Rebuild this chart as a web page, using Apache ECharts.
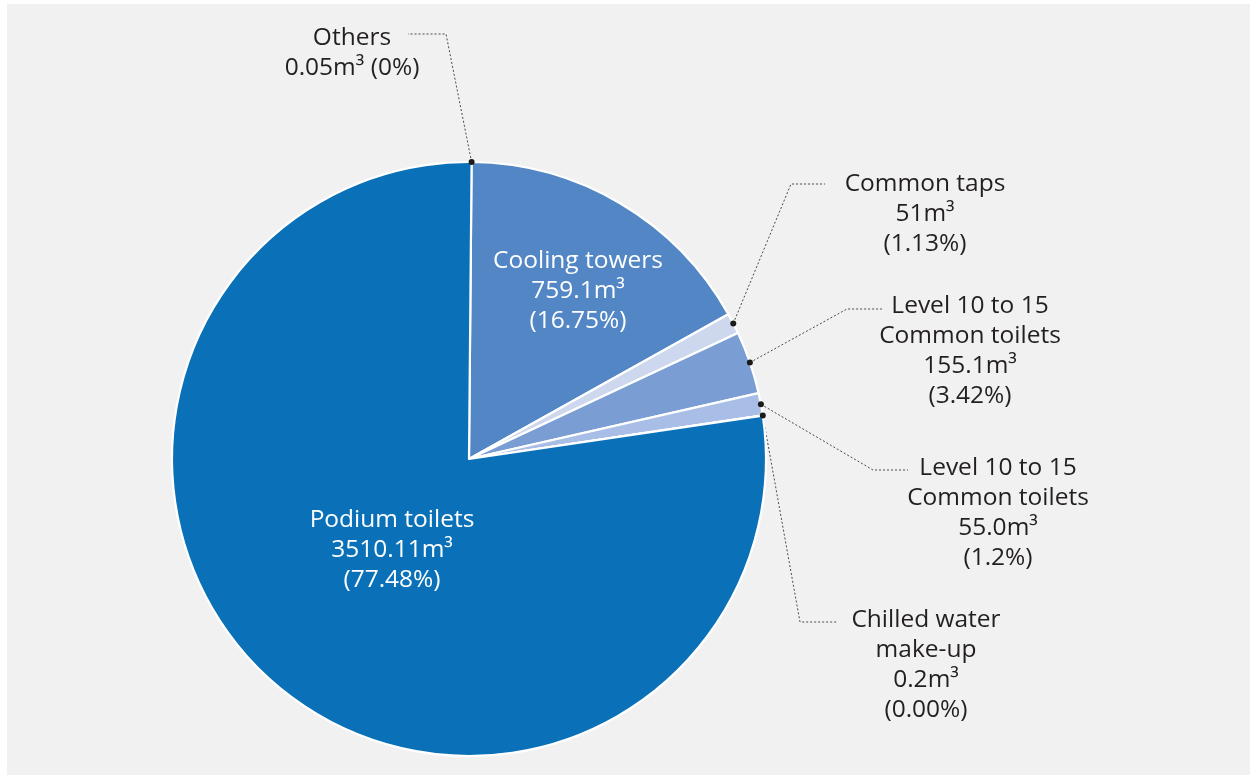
<!DOCTYPE html>
<html>
<head>
<meta charset="utf-8">
<title>Water consumption breakdown</title>
<script src="https://cdn.jsdelivr.net/npm/echarts@6/dist/echarts.min.js"></script>
<style>
  html, body { margin: 0; padding: 0; background: #ffffff; }
  #chart { width: 1250px; height: 775px; }
</style>
</head>
<body>
<div id="chart"></div>
<script>
// Water use by end point, clockwise from the top of the pie
const categories = [
  'Others',
  'Cooling towers',
  'Common taps',
  'Level 10 to 15\nCommon toilets',
  'Level 10 to 15\nCommon toilets',
  'Chilled water\nmake-up',
  'Podium toilets'
];
const volumes = [0.05, 759.1, 51, 155.1, 55.0, 0.2, 3510.11];          // m³
const volumeDecimals = [2, 1, 0, 1, 1, 1, 2];
const shareLabels = ['0%', '16.75%', '1.13%', '3.42%', '1.2%', '0.00%', '77.48%'];

const sliceColors = ['#0a71b8', '#5286c5', '#cdd8ef', '#7a9ed3', '#a9bee6', '#a9bee6', '#0a71b8'];

// Where each label block sits and how its dashed leader bends
const placement = [
  { x: 352, y: 53,  elbow: [446, 34],  end: [408, 34], oneLine: true },
  { x: 578, y: 291, inside: true },
  { x: 925, y: 214, elbow: [791, 184], end: [825, 184] },
  { x: 970, y: 351, elbow: [847, 309], end: [882, 309] },
  { x: 998, y: 513, elbow: [873, 470], end: [908, 470] },
  { x: 926, y: 665, elbow: [800, 622], end: [837, 622] },
  { x: 392, y: 550, inside: true }
];

const FONT = '"Open Sans", "Noto Sans", sans-serif';
const anchors = [];

const seriesData = categories.map(function (name, i) {
  const spot = placement[i];
  return {
    name: name,
    value: volumes[i],
    itemStyle: { color: sliceColors[i] },
    label: spot.inside
      ? { position: 'inside', color: '#ffffff' }
      : { position: 'outside', color: '#231f20' },
    labelLine: { show: !spot.inside }
  };
});

function labelText(p) {
  const i = p.dataIndex;
  const amount = volumes[i].toFixed(volumeDecimals[i]) + 'm³';
  const share = '(' + shareLabels[i] + ')';
  return placement[i].oneLine
    ? categories[i] + '\n' + amount + ' ' + share
    : categories[i] + '\n' + amount + '\n' + share;
}

const chart = echarts.init(document.getElementById('chart'), null, { renderer: 'canvas' });

const option = {
  animation: false,
  backgroundColor: '#ffffff',
  graphic: [
    {
      id: 'panel',
      type: 'rect',
      z: -100,
      silent: true,
      shape: { x: 7, y: 4, width: 1243, height: 771 },
      style: { fill: '#f1f1f1' }
    }
  ],
  series: [
    {
      type: 'pie',
      center: [469, 459],
      radius: 297,
      startAngle: 89.5,
      clockwise: true,
      avoidLabelOverlap: false,
      minShowLabelAngle: 0,
      itemStyle: { borderColor: '#ffffff', borderWidth: 2.2 },
      label: {
        show: true,
        formatter: labelText,
        fontFamily: FONT,
        fontSize: 24.5,
        lineHeight: 30,
        align: 'center'
      },
      labelLine: {
        show: true,
        length: 10,
        length2: 10,
        smooth: false,
        lineStyle: { color: '#4a4a4a', width: 1, type: [2, 2] }
      },
      emphasis: { disabled: true },
      labelLayout: function (p) {
        const spot = placement[p.dataIndex];
        const out = { x: spot.x, y: spot.y, align: 'center', verticalAlign: 'middle' };
        if (!spot.inside && p.labelLinePoints && p.labelLinePoints.length) {
          const a = p.labelLinePoints[0];
          anchors[p.dataIndex] = [a[0], a[1]];
          out.labelLinePoints = [[a[0], a[1]], spot.elbow, spot.end];
        }
        return out;
      },
      data: seriesData
    }
  ]
};

chart.setOption(option);

// Small dots where each leader meets the rim of the pie
function drawAnchorDots() {
  const dots = [];
  anchors.forEach(function (a, i) {
    if (!a) return;
    dots.push({
      id: 'dot' + i,
      type: 'circle',
      z: 100,
      silent: true,
      shape: { cx: a[0], cy: a[1], r: 3 },
      style: { fill: '#1a1a1a' }
    });
  });
  if (dots.length) chart.setOption({ graphic: dots });
  return dots.length;
}

if (!drawAnchorDots()) {
  chart.on('finished', function once() {
    chart.off('finished', once);
    drawAnchorDots();
  });
}
</script>
</body>
</html>
